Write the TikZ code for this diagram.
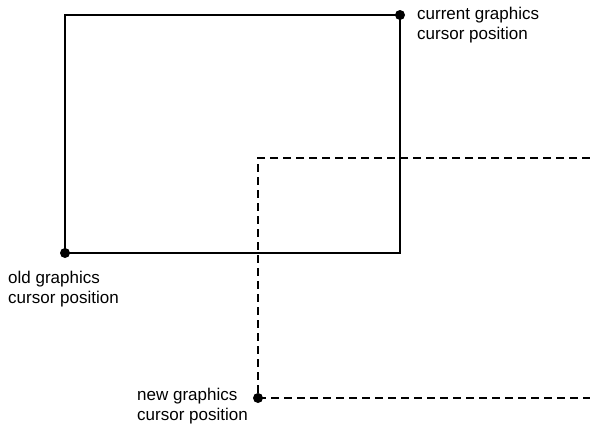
\documentclass[tikz,border=0pt]{standalone}
\usepackage{fontspec}
\setmainfont{Liberation Sans}
\begin{document}
\begin{tikzpicture}[x=1pt,y=-1pt,
  solidline/.style={line width=1.8pt},
  dashline/.style={line width=1.5pt,dash pattern=on 8pt off 5pt},
  dotmark/.style={circle,fill=black,inner sep=0pt,minimum size=10pt},
  lbl/.style={align=left,inner sep=0pt,font=\fontsize{17}{19.5}\selectfont}]
\useasboundingbox (0,0) rectangle (590,424);
\node[dotmark] (cur) at (400,15) {};
\node[dotmark] (old) at (65,253) {};
\node[dotmark] (new) at (258,398) {};
\coordinate (tl) at (65,15);
\coordinate (br) at (400,253);
\coordinate (dtl) at (258,158);
\coordinate (dtr) at (590,158);
\coordinate (dbr) at (590,398);
\draw[solidline] (old.center) -- (tl) -- (cur.center) -- (br) -- (old.center);
\draw[dashline] (dtr) -- (dtl) -- (new.center) -- (dbr);
\node[lbl,anchor=base west] (curl) at (417,39) {current graphics\\cursor position};
\node[lbl,anchor=base west] (oldl) at (8,303) {old graphics\\cursor position};
\node[lbl,anchor=base west] (newl) at (137,420) {new graphics\\cursor position};
\end{tikzpicture}
\end{document}
